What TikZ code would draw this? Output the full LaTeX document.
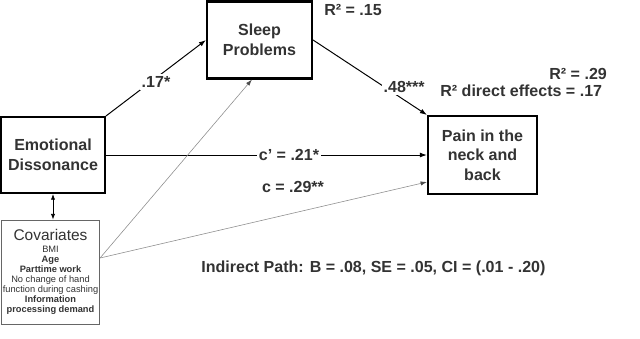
\documentclass[tikz,border=0pt]{standalone}
\usepackage{fontspec}
\setmainfont{Liberation Sans}
\usetikzlibrary{arrows.meta}

\begin{document}
\begin{tikzpicture}[x=0.025cm, y=-0.025cm, line cap=round,
    box/.style={draw=black, line width=1.5pt, align=center, inner sep=2pt, text=black!80,
      font=\bfseries\fontsize{11.4}{13.9}\selectfont},
    lbl/.style={font=\bfseries\fontsize{11.4}{13.9}\selectfont, text=black!80, inner sep=1.5pt},
    covbox/.style={draw=black!60, line width=0.6pt, align=center, inner sep=1pt, text=black!80,
      font=\fontsize{6.6}{7.1}\selectfont},
    arr/.style={line width=0.7pt, -{Latex[length=5pt,width=3.5pt]}},
    garr/.style={draw=black!45, line width=0.4pt,
      -{Latex[length=4.5pt,width=3pt,color=black!70]}}]
  \fill[white] (0,0) rectangle (640,338);
  \useasboundingbox (0,0) rectangle (640,338);

  % boxes
  \node[box, minimum width=2.6cm, minimum height=1.9cm] (ed) at (53,155) {Emotional\\Dissonance};
  \node[box, minimum width=2.625cm, minimum height=1.925cm] (sleep) at (259.5,40) {Sleep\\Problems};
  \node[box, minimum width=2.725cm, minimum height=1.95cm] (pain) at (482.5,155) {Pain in the\\neck and\\back};
  \node[covbox, minimum width=2.425cm, minimum height=2.6cm] (cov) at (50.5,272)
    {{\fontsize{11}{12}\selectfont Covariates}\\[1pt] BMI\\ \textbf{Age}\\ \textbf{Parttime work}\\
     No change of hand\\ function during cashing\\ \textbf{Information}\\ \textbf{processing demand}};

  % paths
  \draw[arr] (ed.north east) -- node[lbl, fill=white, pos=0.5, yshift=-0.1cm] (l17) {.17*} (sleep.west);
  \draw[arr] (sleep.east) -- node[lbl, fill=white, pos=0.8, yshift=0.33cm] (l48) {.48***} (pain.north west);
  \draw[arr] (ed.east) -- node[lbl, fill=white, pos=0.57] (lcp) {c' = .21*} (pain.west);
  \node[lbl] (lc) at (293,187) {c = .29**};

  % covariates
  \draw[line width=0.5pt, {Latex[length=4pt,width=3pt]}-{Latex[length=4pt,width=3pt]}]
    (ed.south) -- (ed.south |- cov.north);
  \coordinate (covout) at ([yshift=0.35cm]cov.east);
  \draw[garr] (covout) -- ([xshift=-0.19cm]sleep.south);
  \draw[garr] (covout) -- ([yshift=-0.675cm]pain.west);

  % explained variance and indirect path
  \node[lbl] (r2sleep) at (353,10) {R² = .15};
  \node[lbl, anchor=west] (r2pain) at (547,74) {R² = .29};
  \node[lbl, anchor=west] (r2direct) at (438,91) {R² direct effects = .17};
  \node[lbl, anchor=west] (indirect) at (199,268) {Indirect Path: B = .08, SE = .05, CI = (.01 - .20)};
\end{tikzpicture}
\end{document}
